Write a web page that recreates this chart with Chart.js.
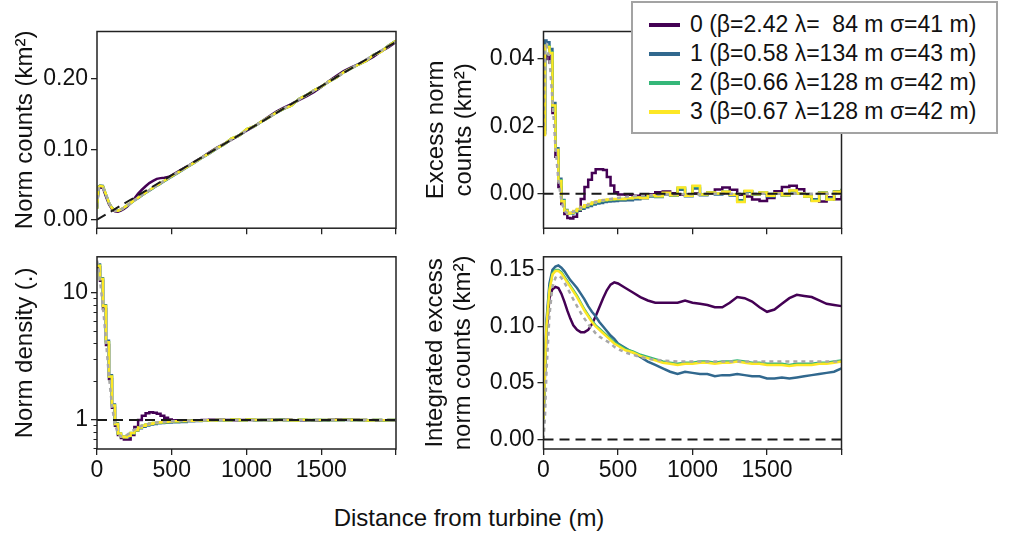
<!DOCTYPE html>
<html>
<head>
<meta charset="utf-8">
<title>Distance from turbine</title>
<script src="https://cdn.jsdelivr.net/npm/chart.js"></script>
<style>
  body { margin: 0; background: #fff; }
  #page { position: relative; width: 1013px; height: 533px; overflow: hidden;
          font-family: "Liberation Sans", Arial, sans-serif; color: #111; }
  #page canvas { position: absolute; }
  #xtitle { position: absolute; left: 269px; width: 400px; top: 504px;
            text-align: center; font-size: 24px; line-height: 28px; }
  #legend { position: absolute; left: 631px; top: 1px; width: 363px; height: 122px;
            border: 2px solid #a3a3a3; background: #fff; padding-top: 7px; z-index: 2; }
  .row { display: flex; align-items: center; height: 29px; }
  .swatch { width: 31px; height: 4px; margin-left: 16px; margin-right: 10px; }
  .row span { font-size: 23px; white-space: pre; }
</style>
</head>
<body>
<div id="page">
  <canvas id="counts" width="420" height="245" style="left:0;top:0"></canvas>
  <canvas id="excess" width="445" height="245" style="left:410px;top:0"></canvas>
  <canvas id="density" width="420" height="260" style="left:0;top:240px"></canvas>
  <canvas id="integrated" width="445" height="260" style="left:410px;top:240px"></canvas>
  <div id="legend"></div>
  <div id="xtitle">Distance from turbine (m)</div>
</div>
<script>
// bin edges (m)
const distance = [0, 10, 20, 40, 60, 80, 100, 120, 140, 160, 180, 200,
  225, 250, 275, 300, 325, 350, 375, 400, 425, 450, 475, 500,
  550, 600, 650, 700, 750, 800, 850, 900, 950, 1000,
  1050, 1100, 1150, 1200, 1250, 1300, 1350, 1400, 1450, 1500,
  1550, 1600, 1650, 1700, 1750, 1800, 1850, 1900, 1950, 2000];
const distanceTicks = [0, 500, 1000, 1500, 2000];

const seriesLabels = [
  '0 (β=2.42 λ=  84 m σ=41 m)',
  '1 (β=0.58 λ=134 m σ=43 m)',
  '2 (β=0.66 λ=128 m σ=42 m)',
  '3 (β=0.67 λ=128 m σ=42 m)'
];
const seriesColors = ['#440154', '#31688e', '#35b779', '#fde725'];

// norm counts (km2)
const counts0 = [0.016, 0.043, 0.046, 0.045, 0.033, 0.022, 0.0150, 0.0121, 0.0115, 0.0130, 0.0154, 0.0184,
  0.0234, 0.0300, 0.0370, 0.0425, 0.0475, 0.0520, 0.0550, 0.0580, 0.0590, 0.0595, 0.0605, 0.0630,
  0.0692, 0.0752, 0.0817, 0.0883, 0.0953, 0.1018, 0.1075, 0.1134, 0.1197, 0.1263,
  0.1323, 0.1392, 0.1464, 0.1533, 0.1590, 0.1638, 0.1696, 0.1750, 0.1809, 0.1881,
  0.1964, 0.2039, 0.2106, 0.2159, 0.2205, 0.2254, 0.2312, 0.2388, 0.2445, 0.2520];
const counts1 = [0.016, 0.047, 0.0485, 0.048, 0.035, 0.0237, 0.0171, 0.0133, 0.0129, 0.0144, 0.0169, 0.0198,
  0.0235, 0.0272, 0.0307, 0.0343, 0.0378, 0.0413, 0.0446, 0.0481, 0.0513, 0.0546, 0.0578, 0.0611,
  0.0675, 0.0741, 0.0807, 0.0875, 0.0938, 0.1008, 0.1067, 0.1148, 0.1192, 0.1278,
  0.1321, 0.1390, 0.1449, 0.1518, 0.1573, 0.1622, 0.1710, 0.1764, 0.1831, 0.1885,
  0.1957, 0.2014, 0.2090, 0.2145, 0.2202, 0.2256, 0.2339, 0.2385, 0.2469, 0.2539];
const counts2 = [0.0155, 0.046, 0.048, 0.047, 0.036, 0.0242, 0.0166, 0.0132, 0.0127, 0.0144, 0.0170, 0.0200,
  0.0238, 0.0276, 0.0312, 0.0348, 0.0383, 0.0418, 0.0452, 0.0486, 0.0519, 0.0551, 0.0583, 0.0616,
  0.0681, 0.0746, 0.0809, 0.0878, 0.0940, 0.1012, 0.1069, 0.1153, 0.1193, 0.1284,
  0.1323, 0.1392, 0.1451, 0.1520, 0.1575, 0.1619, 0.1712, 0.1766, 0.1834, 0.1887,
  0.1958, 0.2015, 0.2091, 0.2146, 0.2201, 0.2252, 0.2338, 0.2382, 0.2467, 0.2536];
const counts3 = [0.0155, 0.046, 0.048, 0.047, 0.036, 0.024, 0.0165, 0.0131, 0.0127, 0.0144, 0.0171, 0.0201,
  0.0239, 0.0277, 0.0313, 0.0349, 0.0384, 0.0419, 0.0453, 0.0487, 0.0519, 0.0552, 0.0584, 0.0616,
  0.0681, 0.0746, 0.0808, 0.0879, 0.0940, 0.1013, 0.1069, 0.1155, 0.1193, 0.1286,
  0.1323, 0.1392, 0.1452, 0.1520, 0.1575, 0.1617, 0.1713, 0.1766, 0.1834, 0.1887,
  0.1958, 0.2015, 0.2092, 0.2146, 0.2201, 0.2251, 0.2338, 0.2381, 0.2467, 0.2537];
const countsFit = [0.018, 0.044, 0.047, 0.045, 0.036, 0.024, 0.0166, 0.0131, 0.0127, 0.0144, 0.0170, 0.0199,
  0.0236, 0.0274, 0.0310, 0.0347, 0.0382, 0.0417, 0.0451, 0.0486, 0.0519, 0.0553, 0.0586, 0.0619,
  0.0685, 0.0750, 0.0815, 0.0879, 0.0944, 0.1008, 0.1071, 0.1135, 0.1198, 0.1261,
  0.1324, 0.1388, 0.1451, 0.1514, 0.1578, 0.1641, 0.1704, 0.1767, 0.1830, 0.1893,
  0.1956, 0.2019, 0.2082, 0.2145, 0.2209, 0.2272, 0.2335, 0.2398, 0.2461, 0.2524];
const countsTicks = [0, 0.1, 0.2];

// excess norm counts (km2)
const excess0 = [0.018, 0.040, 0.041, 0.039, 0.024, 0.011, 0.002, -0.003, -0.006, -0.0072, -0.0073, -0.0068,
  -0.0050, -0.0015, 0.0020, 0.0042, 0.0062, 0.0073, 0.0073, 0.0071, 0.0050, 0.0025, 0.0005, -0.0002,
  -0.0003, -0.0006, -0.0004, -0.0001, 0.0005, 0.0007, 0.0002, -0.0003, -0.0002, 0.0001,
  -0.0002, 0.0004, 0.0013, 0.0019, 0.0012, -0.0003, -0.0008, -0.0017, -0.0021, -0.0012,
  0.0008, 0.0020, 0.0024, 0.0014, -0.0004, -0.0018, -0.0023, -0.0010, -0.0016, -0.0004];
const excess1 = [0.019, 0.0455, 0.045, 0.043, 0.027, 0.0135, 0.0045, -0.0018, -0.0048, -0.0058, -0.0058, -0.0054,
  -0.0049, -0.0044, -0.0040, -0.0036, -0.0032, -0.0029, -0.0027, -0.0024, -0.0023, -0.0022, -0.0021, -0.0020,
  -0.0019, -0.0016, -0.0013, -0.0008, -0.0009, -0.0002, -0.0006, 0.0012, -0.0007, 0.0016,
  -0.0004, 0.0002, -0.0002, 0.0004, -0.0005, -0.0019, 0.0006, -0.0003, 0.0001, -0.0008,
  0.0001, -0.0005, 0.0008, 0.0000, -0.0007, -0.0016, 0.0004, -0.0013, 0.0008, 0.0015];
const excess2 = [0.018, 0.044, 0.0438, 0.042, 0.026, 0.013, 0.004, -0.002, -0.005, -0.0058, -0.0057, -0.0052,
  -0.0046, -0.0040, -0.0035, -0.0031, -0.0027, -0.0024, -0.0021, -0.0019, -0.0018, -0.0017, -0.0016, -0.0015,
  -0.0013, -0.0011, -0.0011, -0.0005, -0.0007, 0.0002, -0.0004, 0.0017, -0.0006, 0.0022,
  -0.0002, 0.0004, 0.0000, 0.0006, -0.0003, -0.0022, 0.0008, -0.0001, 0.0004, -0.0006,
  0.0002, -0.0004, 0.0009, 0.0001, -0.0008, -0.0020, 0.0003, -0.0016, 0.0006, 0.0012];
const excess3 = [0.0175, 0.0440, 0.0436, 0.0418, 0.0262, 0.0130, 0.0038, -0.0022, -0.0050, -0.0058, -0.0056, -0.0051,
  -0.0045, -0.0039, -0.0034, -0.0030, -0.0026, -0.0023, -0.0020, -0.0018, -0.0017, -0.0016, -0.0015, -0.0015,
  -0.0013, -0.0011, -0.0012, -0.0004, -0.0007, 0.0003, -0.0004, 0.0019, -0.0006, 0.0024,
  -0.0002, 0.0004, 0.0001, 0.0006, -0.0003, -0.0024, 0.0009, -0.0001, 0.0004, -0.0006,
  0.0002, -0.0004, 0.0010, 0.0001, -0.0008, -0.0021, 0.0003, -0.0017, 0.0006, 0.0013];
const excessFit = [0.020, 0.043, 0.044, 0.040, 0.028, 0.014, 0.004, -0.002, -0.005, -0.0058, -0.0057, -0.0053,
  -0.0048, -0.0042, -0.0037, -0.0032, -0.0028, -0.0025, -0.0022, -0.0019, -0.0017, -0.0015, -0.0013, -0.0012,
  -0.0009, -0.0007, -0.0005, -0.0004, -0.0003, -0.0002, -0.0002, -0.0001, -0.0001, -0.0001,
  -0.0001, 0, 0, 0, 0, 0, 0, 0, 0, 0,
  0, 0, 0, 0, 0, 0, 0, 0, 0, 0];
const excessTicks = [0, 0.02, 0.04];

// norm density
const density0 = [16.0, 16.0, 12.5, 7.5, 3.9, 2.1, 1.25, 0.9, 0.76, 0.72, 0.70, 0.70,
  0.76, 0.88, 1.0, 1.08, 1.13, 1.15, 1.14, 1.12, 1.08, 1.04, 1.01, 0.995,
  0.995, 0.99, 0.995, 1.0, 1.005, 1.005, 1.0, 0.995, 1.0, 1.0,
  1.0, 1.0, 1.005, 1.01, 1.005, 0.995, 0.995, 0.99, 0.99, 0.995,
  1.005, 1.01, 1.01, 1.005, 1.0, 0.99, 0.99, 0.995, 0.995, 1.0];
const density1 = [16.8, 16.8, 13.1, 8.0, 4.2, 2.25, 1.32, 0.94, 0.78, 0.74, 0.73, 0.745,
  0.78, 0.82, 0.86, 0.885, 0.905, 0.92, 0.93, 0.94, 0.945, 0.95, 0.955, 0.96,
  0.965, 0.975, 0.98, 0.99, 0.985, 0.995, 0.99, 1.005, 0.99, 1.005,
  0.995, 1.0, 0.995, 1.0, 0.995, 0.985, 1.0, 0.995, 1.0, 0.99,
  0.995, 0.995, 1.0, 0.995, 0.995, 0.985, 1.0, 0.99, 1.0, 1.005];
const density2 = [16.5, 16.5, 12.9, 7.9, 4.1, 2.2, 1.3, 0.93, 0.78, 0.74, 0.735, 0.75,
  0.79, 0.83, 0.87, 0.90, 0.92, 0.935, 0.945, 0.955, 0.96, 0.965, 0.97, 0.975,
  0.98, 0.985, 0.99, 0.995, 0.99, 1.0, 0.995, 1.01, 0.995, 1.01,
  1.0, 1.0, 1.0, 1.005, 1.0, 0.99, 1.005, 1.0, 1.0, 1.0,
  1.0, 1.0, 1.005, 1.0, 1.0, 0.99, 1.0, 0.995, 1.0, 1.005];
const density3 = [16.4, 16.4, 12.9, 7.9, 4.1, 2.2, 1.3, 0.93, 0.78, 0.74, 0.73, 0.75,
  0.79, 0.83, 0.87, 0.90, 0.92, 0.935, 0.945, 0.955, 0.96, 0.965, 0.97, 0.975,
  0.98, 0.985, 0.99, 0.995, 0.99, 1.0, 0.995, 1.01, 0.995, 1.01,
  1.0, 1.0, 1.0, 1.0, 1.0, 0.99, 1.005, 1.0, 1.0, 1.0,
  1.0, 1.0, 1.005, 1.0, 1.0, 0.99, 1.0, 0.995, 1.0, 1.005];
const densityFit = [18.0, 16.0, 12.5, 7.8, 4.2, 2.2, 1.3, 0.92, 0.78, 0.74, 0.74, 0.76,
  0.80, 0.84, 0.87, 0.90, 0.92, 0.935, 0.945, 0.955, 0.962, 0.968, 0.973, 0.977,
  0.983, 0.987, 0.99, 0.993, 0.995, 0.996, 0.997, 0.998, 0.998, 0.999,
  1.0, 1.0, 1.0, 1.0, 1.0, 1.0, 1.0, 1.0, 1.0, 1.0,
  1.0, 1.0, 1.0, 1.0, 1.0, 1.0, 1.0, 1.0, 1.0, 1.0];
const densityTicks = [1, 10];
const densityMinorTicks = [0.6, 0.7, 0.8, 0.9, 2, 3, 4, 5, 6, 7, 8, 9];

// integrated excess norm counts (km2)
const integrated0 = [0.020, 0.058, 0.095, 0.125, 0.133, 0.135, 0.134, 0.129, 0.122, 0.114, 0.107, 0.101,
  0.097, 0.095, 0.095, 0.097, 0.102, 0.109, 0.117, 0.125, 0.132, 0.137, 0.139, 0.138,
  0.134, 0.130, 0.126, 0.123, 0.121, 0.121, 0.121, 0.121, 0.123, 0.121,
  0.120, 0.119, 0.117, 0.117, 0.121, 0.126, 0.125, 0.122, 0.117, 0.113,
  0.115, 0.120, 0.125, 0.128, 0.127, 0.126, 0.123, 0.120, 0.119, 0.118];
const integrated1 = [0.019, 0.063, 0.105, 0.138, 0.150, 0.153, 0.154, 0.152, 0.149, 0.145, 0.141, 0.138,
  0.134, 0.129, 0.124, 0.118, 0.113, 0.109, 0.104, 0.100, 0.096, 0.092, 0.089, 0.085,
  0.081, 0.077, 0.073, 0.069, 0.066, 0.063, 0.060, 0.058, 0.060, 0.059,
  0.058, 0.058, 0.056, 0.057, 0.057, 0.058, 0.057, 0.056, 0.056, 0.054,
  0.054, 0.055, 0.054, 0.055, 0.056, 0.057, 0.058, 0.059, 0.060, 0.063];
const integrated2 = [0.018, 0.061, 0.101, 0.133, 0.147, 0.150, 0.150, 0.148, 0.144, 0.140, 0.136, 0.132,
  0.127, 0.121, 0.115, 0.110, 0.105, 0.101, 0.098, 0.095, 0.092, 0.089, 0.086, 0.084,
  0.080, 0.078, 0.075, 0.073, 0.071, 0.069, 0.068, 0.067, 0.068, 0.068,
  0.069, 0.069, 0.068, 0.069, 0.069, 0.070, 0.069, 0.068, 0.068, 0.067,
  0.067, 0.067, 0.066, 0.067, 0.067, 0.067, 0.068, 0.068, 0.069, 0.070];
const integrated3 = [0.018, 0.060, 0.100, 0.132, 0.146, 0.149, 0.149, 0.147, 0.143, 0.139, 0.135, 0.131,
  0.126, 0.120, 0.114, 0.109, 0.104, 0.100, 0.097, 0.094, 0.091, 0.088, 0.085, 0.083,
  0.079, 0.077, 0.074, 0.072, 0.070, 0.068, 0.067, 0.066, 0.067, 0.067,
  0.068, 0.068, 0.067, 0.068, 0.068, 0.069, 0.068, 0.067, 0.067, 0.066,
  0.066, 0.066, 0.065, 0.066, 0.066, 0.066, 0.067, 0.067, 0.068, 0.069];
const integratedFit = [0.000, 0.020, 0.060, 0.110, 0.135, 0.143, 0.145, 0.143, 0.139, 0.134, 0.129, 0.124,
  0.118, 0.112, 0.107, 0.102, 0.098, 0.094, 0.091, 0.089, 0.087, 0.085, 0.082, 0.080,
  0.077, 0.075, 0.073, 0.0715, 0.0705, 0.070, 0.0695, 0.069, 0.069, 0.069,
  0.069, 0.069, 0.069, 0.069, 0.069, 0.069, 0.069, 0.069, 0.069, 0.069,
  0.069, 0.069, 0.069, 0.069, 0.069, 0.069, 0.069, 0.069, 0.069, 0.069];
const integratedTicks = [0, 0.05, 0.1, 0.15];

// dashed reference lines
const refDistance = [0, 2000];
const refCounts = [0, 0.2524];
const refExcess = [0, 0];
const refDensity = [1, 1];
const refIntegrated = [0, 0];

const tickFont = { family: '"Liberation Sans", Arial, sans-serif', size: 23 };
const titleFont = { family: '"Liberation Sans", Arial, sans-serif', size: 24, lineHeight: 1.2 };
const ink = '#111';

// box around each plot area
const frame = {
  id: 'frame',
  afterDraw(chart) {
    const { ctx, chartArea: a } = chart;
    ctx.save();
    ctx.strokeStyle = '#222';
    ctx.lineWidth = 1.5;
    ctx.strokeRect(a.left, a.top, a.right - a.left, a.bottom - a.top);
    ctx.restore();
  }
};

function pairs(xs, ys) {
  return xs.map((x, i) => ({ x: x, y: ys[i] }));
}

function tickAxis(extra) {
  return Object.assign({
    border: { display: false },
    grid: { drawOnChartArea: false, tickLength: 6, color: '#222', lineWidth: 1.3 }
  }, extra);
}

function panel(id, p) {
  const datasets = [
    { data: pairs(refDistance, p.ref), borderColor: '#1a1a1a', borderWidth: 2, borderDash: [10, 6], order: 0 },
    { data: pairs(distance, p.fit), borderColor: '#a8a8a8', borderWidth: 2.5, borderDash: [4, 4], order: 1 }
  ];
  p.series.forEach(function (s, i) {
    datasets.push({ data: pairs(distance, s), borderColor: seriesColors[i], borderWidth: 2.5,
      stepped: p.stepped, order: 5 - i });
  });

  const scales = {
    x: tickAxis({
      type: 'linear', min: 0, max: 2000,
      afterFit: s => { s.height = p.xHeight; },
      afterBuildTicks: s => { s.ticks = distanceTicks.map(v => ({ value: v })); },
      ticks: { autoSkip: false, maxRotation: 0, padding: 2, font: tickFont, color: ink,
        callback: v => (p.xLabels && v < 2000) ? String(v) : '' }
    }),
    y: tickAxis({
      type: p.yType || 'linear', position: 'left', weight: 1, min: p.yMin, max: p.yMax,
      afterFit: s => { s.width = p.yWidth; },
      afterBuildTicks: s => { s.ticks = p.yTicks.map(v => ({ value: v })); },
      ticks: { padding: 3, font: tickFont, color: ink, callback: p.yFormat },
      title: { display: true, text: p.title, font: titleFont, color: ink,
        padding: { top: p.titlePad, bottom: 0 } }
    })
  };
  if (p.minorTicks) {
    scales.yMinor = tickAxis({
      type: p.yType, position: 'left', weight: 0, min: p.yMin, max: p.yMax,
      afterFit: s => { s.width = 0; },
      afterBuildTicks: s => { s.ticks = p.minorTicks.map(v => ({ value: v })); },
      ticks: { callback: () => '' }
    });
    scales.yMinor.grid = { drawOnChartArea: false, tickLength: 3.5, color: '#222', lineWidth: 1 };
  }

  return new Chart(document.getElementById(id), {
    type: 'line',
    data: { datasets: datasets },
    options: {
      responsive: false,
      animation: false,
      elements: { point: { radius: 0 }, line: { tension: 0 } },
      layout: { padding: { top: p.top, right: p.right, left: 0, bottom: 0 } },
      plugins: { legend: { display: false }, tooltip: { enabled: false } },
      scales: scales
    },
    plugins: [frame]
  });
}

const fixed2 = v => v.toFixed(2);

panel('counts', {
  series: [counts0, counts1, counts2, counts3], fit: countsFit, ref: refCounts, stepped: false,
  yMin: -0.012, yMax: 0.2669, yTicks: countsTicks, yFormat: fixed2,
  title: 'Norm counts (km²)', titlePad: 11,
  top: 31.5, right: 24, yWidth: 97, xHeight: 15.5, xLabels: false
});

panel('excess', {
  series: [excess0, excess1, excess2, excess3], fit: excessFit, ref: refExcess, stepped: true,
  yMin: -0.0102, yMax: 0.0482, yTicks: excessTicks, yFormat: fixed2,
  title: ['Excess norm', 'counts (km²)'], titlePad: 11.5,
  top: 31.5, right: 13.5, yWidth: 133.5, xHeight: 15.5, xLabels: false
});

panel('density', {
  series: [density0, density1, density2, density3], fit: densityFit, ref: refDensity, stepped: true,
  yType: 'logarithmic', yMin: 0.59, yMax: 19.3, yTicks: densityTicks, minorTicks: densityMinorTicks,
  yFormat: v => String(v),
  title: 'Norm density (.)', titlePad: 11,
  top: 10.5, right: 24, yWidth: 97, xHeight: 51, xLabels: true
});

panel('integrated', {
  series: [integrated0, integrated1, integrated2, integrated3], fit: integratedFit, ref: refIntegrated, stepped: false,
  yMin: -0.0083, yMax: 0.1616, yTicks: integratedTicks, yFormat: fixed2,
  title: ['Integrated excess', 'norm counts (km²)'], titlePad: 10.5,
  top: 10.5, right: 13.5, yWidth: 133.5, xHeight: 51, xLabels: true
});

// legend box
const legend = document.getElementById('legend');
seriesLabels.forEach(function (label, i) {
  const row = document.createElement('div');
  row.className = 'row';
  const swatch = document.createElement('div');
  swatch.className = 'swatch';
  swatch.style.background = seriesColors[i];
  const text = document.createElement('span');
  text.textContent = label;
  row.appendChild(swatch);
  row.appendChild(text);
  legend.appendChild(row);
});
</script>
</body>
</html>
